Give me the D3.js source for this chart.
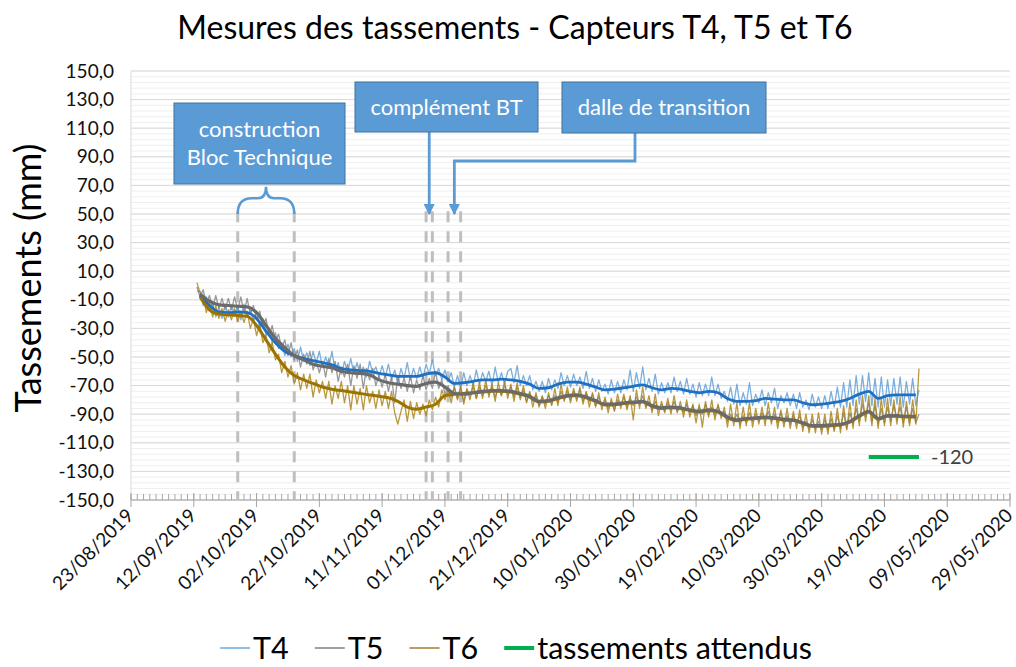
<!DOCTYPE html>
<html><head><meta charset="utf-8">
<script src="https://cdn.jsdelivr.net/npm/d3@7"></script>
<style>body{margin:0;background:#fff} svg{font-family:Lato,'Open Sans',sans-serif}</style>
</head><body><svg id="c" width="1016" height="667"></svg>
<script>
// ---------- data ----------
const chartTitle = "Mesures des tassements - Capteurs T4, T5 et T6";
const yTitle = "Tassements (mm)";
const xTickLabels = ["23/08/2019","12/09/2019","02/10/2019","22/10/2019","11/11/2019","01/12/2019","21/12/2019","10/01/2020","30/01/2020","19/02/2020","10/03/2020","30/03/2020","19/04/2020","09/05/2020","29/05/2020"];
const yMin = -150, yMax = 150;
const yTicks = d3.range(-150, 151, 20);
const seriesNames = ["T4","T5","T6","tassements attendus"];
const rawStart = "2019-09-13";   // daily readings
const trendStart = "2019-09-14"; // moving-average curve, one value every 3 days
const trendStep = 3;
const t4Raw = [-4,-4,-14,-8,-17,-12,-22,-15,-23,-13,
-22,-14,-21,-14,-24,-13,-22,-17,-25,-18,
-30,-23,-35,-30,-41,-33,-44,-40,-49,-41,
-50,-44,-53,-43,-53,-47,-56,-46,-54,-46,
-57,-50,-57,-46,-59,-54,-62,-53,-61,-51,
-62,-54,-62,-57,-64,-53,-61,-57,-64,-56,
-64,-55,-66,-59,-68,-58,-65,-54,-66,-58,
-65,-57,-65,-55,-62,-52,-63,-58,-66,-59,
-67,-61,-71,-63,-72,-61,-70,-63,-70,-59,
-69,-61,-67,-60,-70,-57,-68,-61,-69,-60,
-58,-68,-56,-70,-63,-70,-63,-73,-67,-74,
-67,-75,-65,-73,-66,-72,-61,-70,-63,-71,
-62,-70,-64,-72,-60,-72,-65,-74,-66,-74,
-69,-76,-66,-75,-67,-75,-66,-73,-59,-74,
-61,-72,-57,-73,-65,-74,-62,-76,-68,-75,
-68,-75,-64,-74,-67,-76,-65,-76,-69,-78,
-68,-77,-69,-77,-64,-77,-69,-79,-74,-81,
-71,-83,-69,-84,-75,-83,-68,-84,-76,-82,
-73,-84,-75,-82,-72,-86,-77,-82,-75,-84,
-76,-86,-75,-85,-80,-87,-76,-85,-78,-86,
-77,-86,-74,-85,-71,-85,-68,-85,-66,-84,
-63,-83,-63,-81,-61,-84,-65,-85,-64,-85,
-66,-84,-65,-83,-64,-85,-67,-83,-65,-84,-73];
const t5Raw = [-1,-8,-3,-13,-7,-16,-7,-16,-9,-17,
-9,-17,-8,-17,-8,-19,-9,-20,-14,-24,
-18,-28,-23,-35,-28,-39,-34,-44,-38,-49,
-40,-52,-45,-57,-48,-55,-46,-59,-53,-61,
-53,-64,-51,-61,-53,-67,-57,-64,-55,-70,
-56,-65,-55,-72,-58,-66,-58,-70,-63,-71,
-62,-74,-64,-82,-63,-72,-65,-74,-63,-75,
-66,-73,-63,-73,-65,-72,-60,-72,-66,-76,
-70,-78,-71,-79,-72,-81,-73,-77,-71,-79,
-71,-77,-70,-76,-71,-78,-72,-77,-70,-76,
-71,-78,-71,-78,-73,-81,-75,-81,-77,-84,
-78,-83,-77,-83,-77,-82,-74,-80,-74,-80,
-74,-79,-73,-81,-75,-81,-76,-84,-78,-84,
-80,-86,-81,-87,-80,-84,-78,-85,-79,-84,
-78,-83,-77,-85,-81,-87,-81,-87,-83,-88,
-82,-87,-81,-88,-84,-89,-83,-89,-84,-91,
-85,-90,-83,-90,-85,-91,-84,-91,-88,-95,
-90,-95,-90,-97,-91,-96,-89,-95,-90,-95,
-89,-94,-88,-95,-90,-96,-89,-96,-91,-97,
-91,-97,-91,-99,-95,-100,-94,-100,-95,-101,
-94,-101,-93,-101,-91,-100,-89,-100,-89,-97,
-86,-95,-83,-92,-82,-95,-84,-97,-86,-96,
-85,-95,-84,-94,-85,-96,-85,-96,-86,-96,-90];
const t6Raw = [2,-5,-7,-19,-11,-22,-14,-23,-16,-25,
-17,-24,-16,-25,-18,-26,-18,-30,-23,-35,
-27,-40,-35,-47,-40,-52,-48,-61,-53,-64,
-56,-69,-61,-73,-62,-72,-62,-78,-66,-75,
-67,-79,-67,-83,-70,-79,-67,-82,-70,-87,
-70,-83,-72,-87,-70,-82,-74,-86,-73,-84,
-74,-86,-74,-89,-97,-88,-80,-95,-81,-93,
-82,-90,-83,-91,-80,-87,-78,-85,-73,-80,
-73,-82,-71,-80,-70,-83,-72,-80,-68,-79,
-68,-79,-66,-78,-69,-81,-68,-77,-67,-79,
-69,-81,-68,-80,-70,-82,-74,-85,-75,-85,
-77,-86,-75,-84,-72,-84,-69,-81,-71,-82,
-72,-81,-71,-83,-74,-85,-75,-85,-75,-87,
-78,-89,-79,-88,-76,-86,-76,-87,-77,-94,
-73,-86,-71,-86,-77,-89,-76,-91,-81,-89,
-79,-90,-77,-89,-81,-92,-80,-92,-83,-96,
-83,-99,-81,-92,-80,-94,-83,-93,-85,-99,
-83,-98,-82,-100,-85,-98,-82,-99,-86,-97,
-85,-98,-82,-97,-85,-100,-87,-99,-86,-100,
-88,-100,-87,-102,-90,-103,-90,-103,-89,-104,
-90,-104,-88,-102,-86,-103,-84,-101,-82,-100,
-80,-98,-77,-95,-77,-98,-79,-100,-79,-98,
-79,-98,-80,-97,-78,-99,-81,-98,-80,-97,-58];
const t4Trend = [-7,-14,-18.5,-19,-18.5,-19,-23,-32,-40,-46,
-49,-51,-52.5,-54,-55.5,-58,-59,-59.5,-60,-61.5,
-62.5,-63.5,-63.5,-63.5,-62,-61,-64,-68.5,-68,-67,
-66,-66,-65.5,-66,-67,-69,-72,-71.5,-69,-67.5,
-67.5,-69,-71,-73,-72.5,-71.5,-70.5,-69.5,-71.5,-73,
-72,-72.5,-74,-75,-74,-75,-79,-81,-81,-80.5,
-79,-79.5,-80,-80,-82,-83.4,-83,-82,-81,-79,
-76,-74,-79,-77,-76.5,-76.5,-76.5];
const t5Trend = [-6,-11,-13.5,-14,-14.5,-15,-19,-28,-37,-43.5,
-49,-52,-55,-56.5,-57.5,-60,-61,-61.5,-62.5,-66,
-68,-69,-70,-70.5,-68.5,-67.5,-71,-75.5,-76,-75,
-74,-73.5,-73.5,-74,-75.5,-77.5,-81,-80.5,-78.5,-77,
-76.5,-78,-80.5,-83,-83,-82,-81.5,-81,-84,-85.5,
-85,-85.5,-87,-88,-87,-88,-92,-94,-93,-92.5,
-92,-92.5,-93.5,-94,-96,-98,-98,-97.5,-97,-95,
-91,-88,-93,-91,-91,-91.5,-91.5];
const t6Trend = [-8,-17,-20,-20.5,-21,-21.5,-28,-38,-48,-57,
-63,-66,-68.5,-71,-72.5,-73.5,-74.5,-75.5,-76.5,-77.5,
-78.5,-81,-85,-86.5,-85,-83,-77,-76,-75.5,-75,
-74.5,-74,-74,-74.5,-76,-78,-81.5,-81,-79,-77.5,
-77,-78.5,-81,-83.5,-83.5,-82.5,-82,-81.5,-84.5,-86,
-85.5,-86,-87.5,-88.5,-87.5,-88.5,-92.5,-94.5,-93.5,-93,
-92.5,-93,-94,-94.5,-96.5,-98.5,-98.5,-98,-97.5,-95.5,
-91.5,-88.5,-93.5,-91.5,-91.5,-92,-92];
const expectedDates = ["2020-04-14","2020-04-30"];
const expectedValue = -120;
const eventDates = ["2019-09-26","2019-10-14","2019-11-25","2019-11-27","2019-12-02","2019-12-06"];
const annotationTexts = [["construction","Bloc Technique"],["complément BT"],["dalle de transition"]];

// ---------- setup ----------
const svg = d3.select("#c");
const L = 131, R = 1010, T = 71, B = 500;
const parseDMY = d3.utcParse("%d/%m/%Y"), parseISO = d3.utcParse("%Y-%m-%d");
const xTickDates = xTickLabels.map(parseDMY);
const x = d3.scaleUtc().domain([xTickDates[0], xTickDates[xTickDates.length-1]]).range([L, R]);
const y = d3.scaleLinear().domain([yMin, yMax]).range([B, T]);
const fmt = d3.formatLocale({decimal:",",thousands:" ",grouping:[3],currency:["","€"],minus:"-"}).format(".1f");

// gridlines
svg.append("g").selectAll("line").data(d3.range(yMin, yMax + 0.1, 4)).join("line")
  .attr("x1", L).attr("x2", R).attr("y1", d => y(d)).attr("y2", d => y(d))
  .attr("stroke", "#EFEFEF").attr("stroke-width", 1);
svg.append("g").selectAll("line").data(yTicks).join("line")
  .attr("x1", L).attr("x2", R).attr("y1", d => y(d)).attr("y2", d => y(d))
  .attr("stroke", "#D9D9D9").attr("stroke-width", 1);
svg.append("line").attr("x1", L).attr("x2", L).attr("y1", T).attr("y2", B).attr("stroke", "#D9D9D9");

// y axis labels
const yAxis = svg.append("g").attr("transform", `translate(${L - 14},0)`)
  .call(d3.axisLeft(y).tickValues(yTicks).tickSize(0).tickFormat(fmt));
yAxis.select(".domain").remove();
yAxis.selectAll("text").attr("font-size", 19).attr("fill", "#111").attr("font-family", "Lato");

// x axis
const t0 = xTickDates[0];
const minorDates = d3.range(0, 281, 2).map(k => d3.utcDay.offset(t0, k));
svg.append("g").selectAll("line").data(minorDates).join("line")
  .attr("x1", d => x(d)).attr("x2", d => x(d)).attr("y1", B - 6).attr("y2", B)
  .attr("stroke", "#A6A6A6");
svg.append("g").selectAll("line").data(xTickDates).join("line")
  .attr("x1", d => x(d)).attr("x2", d => x(d)).attr("y1", B - 7).attr("y2", B + 7)
  .attr("stroke", "#A6A6A6");
svg.append("line").attr("x1", L).attr("x2", R).attr("y1", B).attr("y2", B).attr("stroke", "#A6A6A6");
svg.append("g").selectAll("text").data(xTickDates).join("text")
  .attr("transform", d => `translate(${x(d) - 1},${B + 12}) rotate(-45)`)
  .attr("text-anchor", "end").attr("dy", "0.35em")
  .attr("font-size", 19).attr("fill", "#111")
  .text((d, i) => xTickLabels[i]);

// event dashed lines
svg.append("g").selectAll("line").data(eventDates.map(parseISO)).join("line")
  .attr("x1", d => x(d)).attr("x2", d => x(d)).attr("y1", y(52)).attr("y2", B)
  .attr("stroke", "#BFBFBF").attr("stroke-width", 3).attr("stroke-dasharray", "11,9");

// series
const rs = parseISO(rawStart), ts = parseISO(trendStart);
const rawLine = d3.line().x((d, i) => x(d3.utcDay.offset(rs, i))).y(d => y(d));
const trendLine = d3.line().x((d, i) => x(d3.utcDay.offset(ts, i * trendStep))).y(d => y(d)).curve(d3.curveMonotoneX);
const thin = [[t4Raw, "#5B9BD5"], [t5Raw, "#808080"], [t6Raw, "#A8800F"]];
thin.forEach(([arr, c]) => svg.append("path").attr("d", rawLine(arr)).attr("fill", "none")
  .attr("stroke", c).attr("stroke-width", 1.3).attr("stroke-opacity", 0.8).attr("stroke-linejoin", "round"));
const thick = [[t4Trend, "#1F70C1", 2.8], [t6Trend, "#9C7300", 3], [t5Trend, "#6A6A6A", 3.2]];
thick.forEach(([arr, c, w]) => svg.append("path").attr("d", trendLine(arr)).attr("fill", "none")
  .attr("stroke", c).attr("stroke-width", w).attr("stroke-linejoin", "round"));

// expected settlement
const ed = expectedDates.map(parseISO);
svg.append("line").attr("x1", x(ed[0])).attr("x2", x(ed[1])).attr("y1", y(expectedValue)).attr("y2", y(expectedValue))
  .attr("stroke", "#00B050").attr("stroke-width", 4);
svg.append("text").attr("x", x(ed[1]) + 12).attr("y", y(expectedValue)).attr("dy", "0.35em")
  .attr("font-size", 20).attr("fill", "#404040").text(fmt(expectedValue).replace(",0", ""));

// annotations
const blue = "#5B9BD5";
const defs = svg.append("defs");
defs.append("marker").attr("id", "ah").attr("viewBox", "0 0 10 10").attr("refX", 9).attr("refY", 5)
  .attr("markerWidth", 11).attr("markerHeight", 11).attr("markerUnits", "userSpaceOnUse").attr("orient", "auto")
  .append("path").attr("d", "M0,0 L10,5 L0,10 z").attr("fill", blue);
const ev = eventDates.map(parseISO);
// brace
const bx0 = x(ev[0]), bx1 = x(ev[1]), bm = (bx0 + bx1) / 2, by = y(50), bmid = y(61), btip = y(69);
svg.append("path").attr("fill", "none").attr("stroke", blue).attr("stroke-width", 2.5)
  .attr("d", `M${bx0},${by} Q${bx0},${bmid} ${bx0 + 14},${bmid} L${bm - 8},${bmid} Q${bm},${bmid} ${bm},${btip} Q${bm},${bmid} ${bm + 8},${bmid} L${bx1 - 14},${bmid} Q${bx1},${bmid} ${bx1},${by}`);
// arrows
const a1x = x(d3.utcDay.offset(ev[2], 1)), a2x = x(d3.utcDay.offset(ev[4], 2));
svg.append("path").attr("fill", "none").attr("stroke", blue).attr("stroke-width", 2.8)
  .attr("d", `M${a1x},132 L${a1x},${y(50)}`).attr("marker-end", "url(#ah)");
svg.append("path").attr("fill", "none").attr("stroke", blue).attr("stroke-width", 2.8)
  .attr("d", `M635,133 L635,161 L${a2x},161 L${a2x},${y(50)}`).attr("marker-end", "url(#ah)");
// boxes
const boxes = [{x0:174, y0:103, w:171, h:81}, {x0:355, y0:82, w:183, h:50}, {x0:562, y0:82, w:204, h:51}];
boxes.forEach((b, i) => {
  svg.append("rect").attr("x", b.x0).attr("y", b.y0).attr("width", b.w).attr("height", b.h)
    .attr("fill", blue).attr("stroke", "#41719C").attr("stroke-width", 1);
  const lines = annotationTexts[i];
  lines.forEach((t, j) => svg.append("text").attr("x", b.x0 + b.w / 2)
    .attr("y", b.y0 + b.h / 2 + (j - (lines.length - 1) / 2) * 28).attr("dy", "0.35em")
    .attr("text-anchor", "middle").attr("font-size", 22).attr("fill", "#fff").text(t));
});

// title
svg.append("text").attr("x", 515).attr("y", 28).attr("dy", "0.35em").attr("text-anchor", "middle")
  .attr("font-size", 32).attr("fill", "#000").text(chartTitle);
svg.append("text").attr("transform", "translate(28,278) rotate(-90)").attr("dy", "0.35em")
  .attr("text-anchor", "middle").attr("font-size", 36).attr("fill", "#000").text(yTitle);

// legend
const legColors = [["#6FA8DC", 1.5], ["#808080", 1.5], ["#A67C2E", 1.5], ["#00B050", 4]];
const leg = svg.append("g");
let cx = 0;
seriesNames.forEach((n, i) => {
  leg.append("line").attr("x1", cx).attr("x2", cx + 30).attr("y1", 0).attr("y2", 0)
    .attr("stroke", legColors[i][0]).attr("stroke-width", legColors[i][1]);
  const t = leg.append("text").attr("x", cx + 33).attr("y", 0).attr("dy", "0.35em")
    .attr("font-size", 30.5).attr("fill", "#000").text(n);
  cx += 33 + t.node().getComputedTextLength() + 26;
});
const lw = cx - 26;
leg.attr("transform", `translate(${516 - lw / 2},648)`);
</script></body></html>
